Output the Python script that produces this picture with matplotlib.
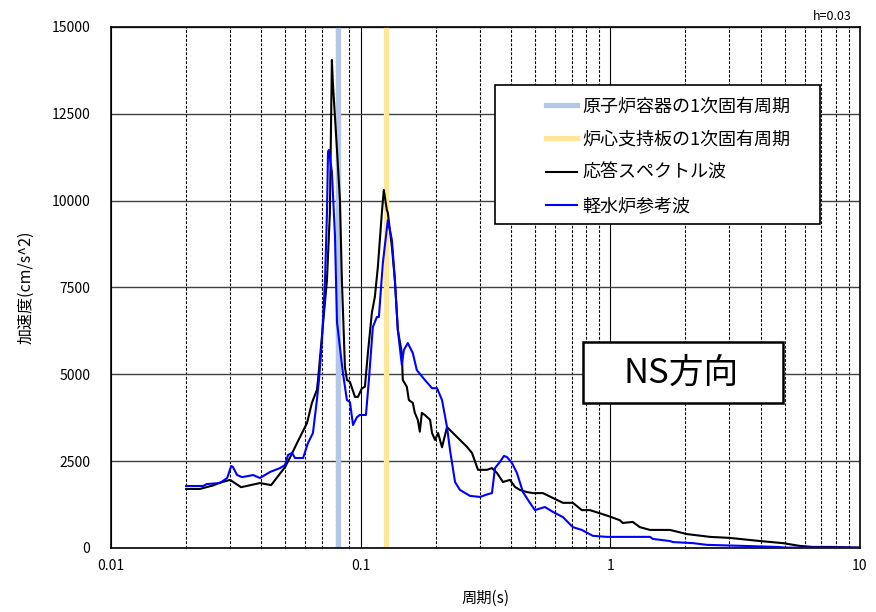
import numpy as np
import matplotlib
matplotlib.use('Agg')
import matplotlib.pyplot as plt
from matplotlib.lines import Line2D
from matplotlib.patches import Rectangle
from matplotlib.ticker import FixedLocator, NullFormatter

plt.rcParams['font.family'] = ['Noto Sans CJK JP', 'DejaVu Sans']

# response spectrum wave (black)
period_resp = [0.020, 0.0227, 0.0256, 0.0273, 0.0300, 0.0332, 0.0395, 0.0438, 0.0498,
               0.0521, 0.0556, 0.0610, 0.0638, 0.0668, 0.0675, 0.0733, 0.0753, 0.0767,
               0.0774, 0.0804, 0.0826, 0.0841, 0.0865, 0.0881, 0.0906, 0.0949, 0.0975,
               0.1012, 0.1040, 0.1069, 0.1109, 0.1140, 0.1172, 0.1216, 0.1238, 0.1273,
               0.1285, 0.1334, 0.1371, 0.1409, 0.1462, 0.1475, 0.1531, 0.1560, 0.1618,
               0.1648, 0.1694, 0.1726, 0.1758, 0.1807, 0.1897, 0.1932, 0.1986, 0.2042,
               0.2118, 0.2218, 0.2344, 0.2500, 0.2667, 0.2793, 0.2951, 0.3206, 0.3357,
               0.3516, 0.3715, 0.3963, 0.4150, 0.4345, 0.4634, 0.4898, 0.5370, 0.5888,
               0.6457, 0.7079, 0.7691, 0.8279, 0.9078, 1.0, 1.091, 1.122, 1.230, 1.313,
               1.442, 1.734, 2.028, 2.506, 3.013, 3.972, 4.909, 5.741, 6.471, 7.783, 10.0]
acc_resp = [1700, 1700, 1800, 1880, 1960, 1750, 1870, 1810, 2330,
            2600, 3020, 3600, 4180, 4550, 4840, 7720, 9650, 14050,
            13390, 11460, 10020, 7720, 5210, 4840, 4780, 4350, 4350,
            4600, 4640, 5610, 6770, 7230, 8090, 9650, 10310, 9730,
            9650, 8670, 7720, 6280, 5610, 4840, 4640, 4260, 4175,
            3890, 3690, 3350, 3890, 3830, 3690, 3310, 3110, 3310,
            2900, 3480, 3310, 3110, 2910, 2735, 2250, 2250, 2300,
            2160, 1900, 1960, 1760, 1670, 1610, 1580, 1580, 1440,
            1300, 1300, 1090, 1090, 1000, 900, 800, 720, 750, 600,
            520, 520, 400, 320, 290, 200, 140, 60, 30, 30, 10]

# LWR reference wave (blue)
period_lwr = [0.020, 0.0234, 0.0242, 0.0273, 0.0292, 0.0303, 0.0308, 0.0320, 0.0335,
              0.0371, 0.0395, 0.0434, 0.0475, 0.0498, 0.0512, 0.0531, 0.0546, 0.0588,
              0.0615, 0.0644, 0.0668, 0.0681, 0.0700, 0.0720, 0.0733, 0.0740, 0.0746,
              0.0767, 0.0789, 0.0804, 0.0849, 0.0881, 0.0906, 0.0932, 0.0967, 0.0993,
              0.1050, 0.1079, 0.1119, 0.1161, 0.1183, 0.1227, 0.1285, 0.1334, 0.1371,
              0.1409, 0.1462, 0.1489, 0.1545, 0.1618, 0.1679, 0.1807, 0.1932, 0.2023,
              0.2118, 0.2218, 0.2280, 0.2388, 0.2500, 0.2742, 0.3006, 0.3236, 0.3357,
              0.3451, 0.3614, 0.3750, 0.3855, 0.4036, 0.4227, 0.4467, 0.4764, 0.4989,
              0.5470, 0.5888, 0.6457, 0.7079, 0.7691, 0.8511, 0.9683, 1.442, 1.482,
              1.734, 1.782, 2.143, 2.438, 3.396, 4.645, 5.093, 10.0]
acc_lwr = [1785, 1785, 1840, 1870, 2015, 2360, 2330, 2100, 2040,
           2100, 2015, 2190, 2300, 2390, 2680, 2735, 2590, 2590,
           3020, 3310, 4260, 4840, 5990, 7720, 9650, 11400, 11460,
           10830, 9000, 6500, 5040, 4260, 4200, 3540, 3770, 3830,
           3830, 4840, 6360, 6650, 6650, 8200, 9440, 8870, 7720,
           6280, 5270, 5700, 5900, 5610, 5120, 4840, 4600, 4600,
           4260, 3480, 2820, 1900, 1670, 1500, 1470, 1550, 1580,
           2300, 2480, 2650, 2620, 2450, 2160, 1610, 1300, 1090,
           1180, 1040, 890, 600, 520, 350, 320, 320, 260,
           200, 170, 140, 90, 60, 30, 10, 10]

# natural periods
t_vessel = 0.081
t_core = 0.126

labels = ['原子炉容器の1次固有周期', '炉心支持板の1次固有周期', '応答スペクトル波', '軽水炉参考波']
yticks = [0, 2500, 5000, 7500, 10000, 12500, 15000]

fig = plt.figure(figsize=(8.76, 6.12), dpi=100)
ax = fig.add_axes([0.1267, 0.1046, 0.855, 0.8513])

c_vessel = '#b4c7e7'
c_core = '#ffe699'
ax.axvline(t_vessel, color=c_vessel, lw=3.8, zorder=2)
ax.axvline(t_core, color=c_core, lw=3.8, zorder=2)
ax.plot(period_resp, acc_resp, color='black', lw=1.5, zorder=3)
ax.plot(period_lwr, acc_lwr, color='#0000ff', lw=1.5, zorder=3)

ax.set_xscale('log')
ax.set_xlim(0.01, 10)
ax.set_ylim(0, 15000)
ax.set_xticks([0.01, 0.1, 1, 10])
ax.set_xticklabels(['0.01', '0.1', '1', '10'])
ax.xaxis.set_minor_locator(FixedLocator(
    [m * d for d in (0.01, 0.1, 1) for m in range(2, 10)]))
ax.xaxis.set_minor_formatter(NullFormatter())
ax.set_yticks(yticks)
ax.set_yticklabels([str(v) for v in yticks])
ax.tick_params(axis='both', which='both', length=0, labelsize=10)
ax.tick_params(axis='x', pad=8)
ax.tick_params(axis='y', pad=15)

ax.grid(True, which='major', axis='x', color='black', lw=0.8)
ax.grid(True, which='minor', axis='x', color='black', lw=0.8, ls=(0, (2.5, 1.5)))
ax.grid(True, which='major', axis='y', color='#404040', lw=1.0)
ax.set_axisbelow(True)
for s in ax.spines.values():
    s.set_color('black')
    s.set_linewidth(1.2)

ax.set_xlabel('周期(s)', fontsize=11, labelpad=12)
ax.set_ylabel('加速度(cm/s^2)', fontsize=11.5, labelpad=12)

# legend box
ax.add_patch(Rectangle((0.513, 0.622), 0.434, 0.267, transform=ax.transAxes,
                       facecolor='white', edgecolor='black', lw=1.2, zorder=5))
handles = [Line2D([], [], color=c_vessel, lw=3.8),
           Line2D([], [], color=c_core, lw=3.8),
           Line2D([], [], color='black', lw=1.5),
           Line2D([], [], color='#0000ff', lw=1.5)]
leg = ax.legend(handles, labels, loc='center left', bbox_to_anchor=(0.581, 0.752),
                frameon=False, fontsize=13, handlelength=1.7, handletextpad=0.3,
                labelspacing=0.85, borderaxespad=0, borderpad=0)
leg.set_zorder(6)

# NS direction box
ax.add_patch(Rectangle((0.630, 0.278), 0.267, 0.117, transform=ax.transAxes,
                       facecolor='white', edgecolor='black', lw=1.8, zorder=5))
ax.text(0.761, 0.336, 'NS方向', transform=ax.transAxes, ha='center', va='center',
        fontsize=25, zorder=6)

fig.text(852 / 876, 1 - 16 / 612, 'h=0.03', ha='right', va='center', fontsize=9)

plt.savefig('out.png', dpi=100)
plt.close()
